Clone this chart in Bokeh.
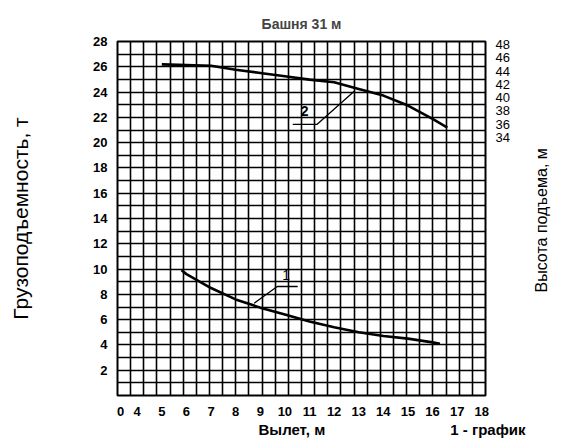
import numpy as np
from bokeh.plotting import figure
from bokeh.models import Range1d, LinearAxis, FixedTicker, Label, Title
from bokeh.embed import file_html
from bokeh.resources import INLINE

# --- data ---
reach_ticks = [4, 5, 6, 7, 8, 9, 10, 11, 12, 13, 14, 15, 16, 17, 18]
load_ticks = list(range(2, 29, 2))
height_ticks = [34, 36, 38, 40, 42, 44, 46, 48]

# curve 1: load capacity (t) vs reach (m)
reach1 = [5.8, 6, 7, 8, 9, 10, 11, 12, 13, 14, 15, 16, 16.3]
load1 = [9.9, 9.6, 8.5, 7.6, 6.95, 6.4, 5.85, 5.4, 5.0, 4.7, 4.5, 4.2, 4.1]

# curve 2: lifting height (m) vs reach (m)
reach2 = [5.0, 6, 7, 8, 9, 10, 11, 12, 13, 14, 15, 16, 16.6]
height2 = [45.0, 44.9, 44.8, 44.2, 43.7, 43.2, 42.7, 42.3, 41.3, 40.3, 38.8, 36.8, 35.5]

X0, X1 = 3.2, 18.15
FONT = "Liberation Sans"

p = figure(width=561, height=442, output_backend="svg", toolbar_location=None,
           x_range=Range1d(X0, X1), y_range=Range1d(0, 28),
           min_border_left=117, min_border_right=64, min_border_top=41, min_border_bottom=47)
p.extra_y_ranges = {"h": Range1d(-4.82, 48.44)}
p.outline_line_color = "black"
p.outline_line_width = 2
p.background_fill_color = "white"
p.border_fill_color = "white"

# title
p.title.text = "Башня 31 м"
p.title.align = "center"
p.title.offset = -7
p.title.standoff = 20
p.title.text_font = FONT
p.title.text_font_size = "14px"
p.title.text_font_style = "bold"

# grid: 28 x 28 cells
p.xgrid.ticker = FixedTicker(ticks=list(np.linspace(X0, X1, 29)))
p.ygrid.ticker = FixedTicker(ticks=list(range(0, 29)))
for g in (p.xgrid, p.ygrid):
    g.grid_line_color = "black"
    g.grid_line_width = 1.6
    g.grid_line_alpha = 1

# x axis
p.xaxis.ticker = FixedTicker(ticks=[3.33] + reach_ticks)
p.xaxis.major_label_overrides = {3.33: "0"}
# y axis
p.yaxis.ticker = FixedTicker(ticks=load_ticks)
p.yaxis.axis_label = "Грузоподъемность, т"

for ax in (p.xaxis[0], p.yaxis[0]):
    ax.axis_line_color = None
    ax.major_tick_line_color = None
    ax.minor_tick_line_color = None
    ax.major_label_text_font = FONT
    ax.major_label_text_font_style = "bold"
    ax.major_label_text_font_size = "13px"
    ax.major_label_text_color = "black"
    ax.axis_label_text_font = FONT
    ax.axis_label_text_font_style = "normal"
    ax.axis_label_text_color = "black"
p.yaxis.axis_label_text_font_size = "21px"
p.yaxis.axis_label_standoff = 58
p.xaxis.major_label_standoff = 5
p.yaxis.major_label_standoff = 4

# right axis: height ticks
rax = LinearAxis(y_range_name="h", ticker=FixedTicker(ticks=height_ticks))
rax.axis_line_color = None
rax.major_tick_line_color = None
rax.minor_tick_line_color = None
rax.major_label_text_font = FONT
rax.major_label_text_font_size = "13px"
rax.major_label_text_color = "black"
rax.major_label_standoff = 4
p.add_layout(rax, "right")

# second right axis carries the axis name as one rotated label (reads bottom-to-top)
NAME_AT = 10.68
nax = LinearAxis(y_range_name="h", ticker=FixedTicker(ticks=[NAME_AT]))
nax.major_label_overrides = {NAME_AT: "Высота подъема, м"}
nax.major_label_orientation = np.pi / 2
nax.axis_line_color = None
nax.major_tick_line_color = None
nax.minor_tick_line_color = None
nax.major_label_standoff = 23
nax.major_label_text_font = FONT
nax.major_label_text_font_size = "16px"
nax.major_label_text_font_style = "normal"
nax.major_label_text_color = "black"
p.add_layout(nax, "right")

# bottom texts: axis name and figure caption on one line
NB = "\u00a0"
bottom = Title(text="Вылет, м" + NB * 30 + "1 - график", align="left", offset=141,
               standoff=0, text_font=FONT, text_font_size="15px", text_font_style="bold",
               text_color="black")
p.add_layout(bottom, "below")

# curves
p.line(reach1, load1, line_color="black", line_width=2.6)
p.line(reach2, height2, line_color="black", line_width=2.6, y_range_name="h")

# leader lines and curve numbers
p.line([8.75, 9.69, 10.52], [7.3, 8.62, 8.62], line_color="black", line_width=1.3)
p.line([10.32, 11.30, 12.84], [21.44, 21.44, 24.1], line_color="black", line_width=1.3)

def txt(x, y, s, size="15px", bold=False):
    p.add_layout(Label(x=x, y=y, text=s, text_font=FONT, text_font_size=size,
                       text_font_style="bold" if bold else "normal",
                       text_align="center", text_baseline="middle", text_color="black"))

txt(10.05, 9.5, "1", "14px")
txt(10.8, 22.5, "2", "14px", True)

open("out.html", "w").write(file_html(p, INLINE))
